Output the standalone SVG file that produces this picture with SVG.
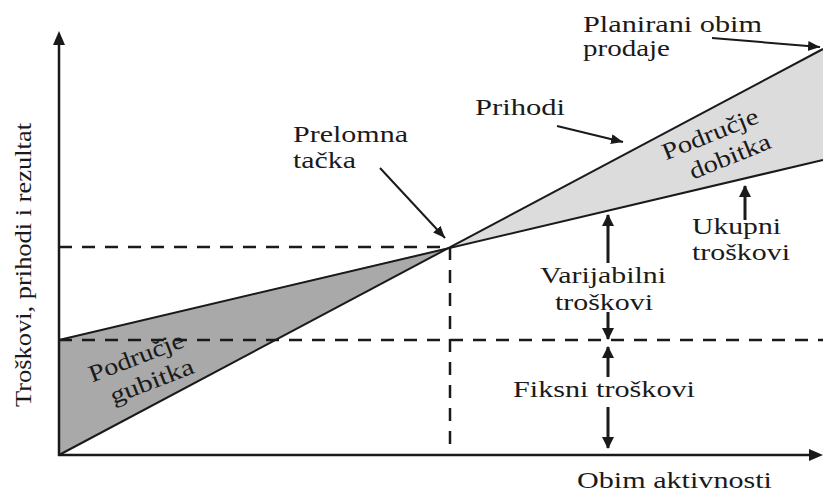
<svg xmlns="http://www.w3.org/2000/svg" width="823" height="493" viewBox="0 0 823 493">
<defs>
<marker id="ah" markerUnits="userSpaceOnUse" markerWidth="14" markerHeight="12" refX="12" refY="5" orient="auto">
<path d="M0,0 L12,5 L0,10 z" fill="#1a1a1a"/>
</marker>
<marker id="ahv" markerUnits="userSpaceOnUse" markerWidth="14" markerHeight="14" refX="11" refY="6" orient="auto">
<path d="M0,0 L12,6 L0,12 z" fill="#1a1a1a"/>
</marker>
</defs>
<style>
.t{font-family:"Liberation Serif",serif;font-size:24px;fill:#1a1a1a}
.ax{stroke:#1a1a1a;stroke-width:2.5;fill:none}
.ln{stroke:#1a1a1a;stroke-width:2;fill:none}
.da{stroke:#1a1a1a;stroke-width:2.5;fill:none;stroke-dasharray:13 10}
.ar{stroke:#1a1a1a;stroke-width:2;fill:none;marker-end:url(#ah)}
.av{stroke:#1a1a1a;stroke-width:3;fill:none;marker-end:url(#ahv)}
</style>
<rect width="823" height="493" fill="#fff"/>
<g id="areas">
<polygon id="loss-area" points="59,455 59,340 450,247" fill="#a9a9a9"/>
<polygon id="profit-area" points="450,247 823,49 823,160" fill="#dcdcdc"/>
</g>
<g id="guides">
<line class="da" x1="59" y1="247" x2="450" y2="247"/>
<line class="da" x1="59" y1="340" x2="823" y2="340"/>
<line class="da" x1="450" y1="247" x2="450" y2="455"/>
</g>
<g id="axes">
<line class="ax" x1="59" y1="456" x2="59" y2="45"/>
<polygon points="59,31 53,45 65,45" fill="#1a1a1a"/>
<line class="ax" x1="58" y1="455" x2="810" y2="455"/>
<polygon points="823,455 809,449 809,461" fill="#1a1a1a"/>
</g>
<g id="lines">
<line id="revenue" class="ln" x1="59" y1="455" x2="823" y2="49"/>
<line id="total-cost" class="ln" x1="59" y1="340" x2="823" y2="160"/>
</g>
<g id="connectors">
<line class="ar" x1="380" y1="168" x2="445" y2="238"/>
<line class="ar" x1="557" y1="126" x2="623" y2="142"/>
<line class="ar" x1="712" y1="38" x2="820" y2="47"/>
<line class="av" x1="745" y1="220" x2="745" y2="186"/>
<line class="av" x1="608" y1="263" x2="608" y2="215"/>
<line class="av" x1="608" y1="312" x2="608" y2="339"/>
<line class="av" x1="608" y1="377" x2="608" y2="347"/>
<line class="av" x1="608" y1="407" x2="608" y2="448"/>
</g>
<g id="labels">
<text class="t" x="583" y="32" textLength="179" lengthAdjust="spacingAndGlyphs">Planirani obim</text>
<text class="t" x="583" y="56" textLength="87" lengthAdjust="spacingAndGlyphs">prodaje</text>
<text class="t" x="475" y="115" textLength="90" lengthAdjust="spacingAndGlyphs">Prihodi</text>
<text class="t" x="293" y="142" textLength="115" lengthAdjust="spacingAndGlyphs">Prelomna</text>
<text class="t" x="293" y="168" textLength="63" lengthAdjust="spacingAndGlyphs">tačka</text>
<text class="t" x="692" y="234" textLength="89" lengthAdjust="spacingAndGlyphs">Ukupni</text>
<text class="t" x="692" y="260" textLength="98" lengthAdjust="spacingAndGlyphs">troškovi</text>
<text class="t" x="540" y="283" textLength="126" lengthAdjust="spacingAndGlyphs">Varijabilni</text>
<text class="t" x="555" y="310" textLength="98" lengthAdjust="spacingAndGlyphs">troškovi</text>
<text class="t" x="513" y="397" textLength="182" lengthAdjust="spacingAndGlyphs">Fiksni troškovi</text>
<text class="t" x="577" y="488" textLength="195" lengthAdjust="spacingAndGlyphs">Obim aktivnosti</text>
<text class="t" transform="translate(31,265) rotate(-90)" text-anchor="middle" font-size="26" textLength="284" lengthAdjust="spacingAndGlyphs">Troškovi, prihodi i rezultat</text>
<g transform="translate(136,357) rotate(-21)">
<text class="t" x="0" y="8" text-anchor="middle" textLength="100" lengthAdjust="spacingAndGlyphs">Područje</text>
<text class="t" x="6" y="36" text-anchor="middle" textLength="88" lengthAdjust="spacingAndGlyphs">gubitka</text>
</g>
<g transform="translate(710,134) rotate(-22)">
<text class="t" x="0" y="8" text-anchor="middle" textLength="102" lengthAdjust="spacingAndGlyphs">Područje</text>
<text class="t" x="10" y="36" text-anchor="middle" textLength="86" lengthAdjust="spacingAndGlyphs">dobitka</text>
</g>
</g>
</svg>
